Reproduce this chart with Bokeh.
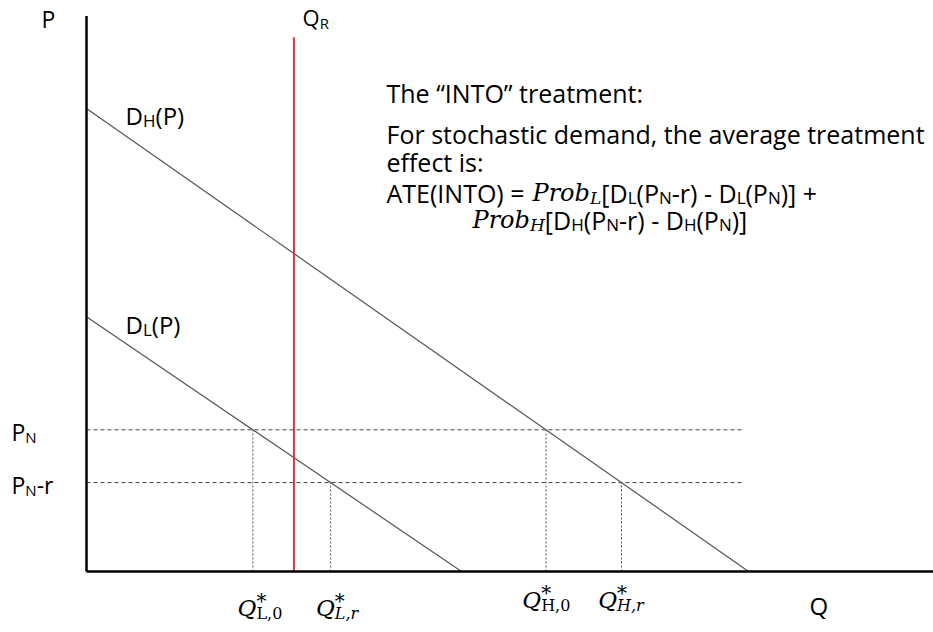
import os
from bokeh.plotting import figure
from bokeh.models import ColumnDataSource, Range1d
from bokeh.embed import file_html
from bokeh.resources import INLINE

# ---------------- data (economic units) ----------------
P_AXIS_TOP = 12.0        # top of the price axis
Q_AXIS_END = 18.3        # right end of the quantity axis
DH_P0, DH_Q0 = 10.0, 14.3   # high demand: price intercept, quantity intercept
DL_P0, DL_Q0 = 5.5, 8.1     # low demand: price intercept, quantity intercept
P_N = 3.06               # normal price
R = 1.14                 # treatment (price reduction r)
Q_R = 4.48               # quantity restriction Q_R
Q_R_TOP = 11.54
GUIDE_END = 14.2         # end of the horizontal dashed price guides

prices = [P_N, P_N - R]
demands = {"L": (DL_P0, DL_Q0), "H": (DH_P0, DH_Q0)}


def demand_q(name, price):
    p0, q0 = demands[name]
    return q0 * (1.0 - price / p0)


# ---------------- layout helpers ----------------
U = 46.3                 # px per unit
X0, Y0 = 86.0, 571.0     # pixel of the origin
W, H = 933, 632
TEXT_DY = -9             # global vertical correction for text baselines


def px2x(xp):
    return (xp - X0) / U


def px2y(yp):
    return (Y0 - yp) / U


# font measurement (for laying out sub/superscript runs)
def _font_index():
    idx = {}
    roots = ["/usr/share/fonts", "/usr/local/share/fonts",
             os.path.expanduser("~/.fonts"), os.path.expanduser("~/.local/share/fonts")]
    for root in roots:
        if not os.path.isdir(root):
            continue
        for dp, _, fns in os.walk(root):
            for f in fns:
                if f.lower().endswith((".ttf", ".otf")):
                    idx.setdefault(f.lower(), os.path.join(dp, f))
    return idx


_IDX = _font_index()
_CANDS = {
    "sans": ["opensans-regular.ttf", "opensans[wdth,wght].ttf", "opensans-variablefont_wdth,wght.ttf"],
    "si": ["dejavuserif-italic.ttf"],
    "s": ["dejavuserif.ttf"],
}
_FALLBACK = {"sans": 0.56, "si": 0.6, "s": 0.6}
_FONTS = {"sans": ("Open Sans", "normal"), "si": ("DejaVu Serif", "italic"), "s": ("DejaVu Serif", "normal")}
_cache = {}


def text_width(t, kind, size):
    try:
        from PIL import ImageFont
        key = (kind, size)
        if key not in _cache:
            path = None
            for c in _CANDS[kind]:
                if c in _IDX:
                    path = _IDX[c]
                    break
            _cache[key] = ImageFont.truetype(path, size) if path else None
        f = _cache[key]
        if f is not None:
            return f.getlength(t)
    except Exception:
        pass
    return len(t) * size * _FALLBACK[kind]


rows = dict(x=[], y=[], text=[], xo=[], yo=[], font=[], size=[], fstyle=[])


def rich(xp, yp, segs):
    off = 0.0
    for seg in segs:
        t, kind, size = seg[0], seg[1], seg[2]
        dy = seg[3] if len(seg) > 3 else 0
        adv = seg[4] if len(seg) > 4 else True
        gap = seg[5] if len(seg) > 5 else 0
        rows["x"].append(px2x(xp))
        rows["y"].append(px2y(yp + TEXT_DY))
        rows["text"].append(t.strip())
        rows["xo"].append(off + (text_width(" ", kind, size) if t.startswith(" ") else 0))
        rows["yo"].append(dy)
        rows["font"].append(_FONTS[kind][0])
        rows["fstyle"].append(_FONTS[kind][1])
        rows["size"].append(f"{size}px")
        if adv:
            off += text_width(t, kind, size) + gap


M, S, SD = 25, 17, 5   # main size, subscript size, subscript drop

# axis labels
rich(41, 27, [("P", "sans", 23)])
rich(809, 614, [("Q", "sans", 24)])
rich(302, 25, [("Q", "sans", 22), ("R", "sans", 15, 6)])
rich(125, 124, [("D", "sans", 24), ("H", "sans", S, SD), ("(P)", "sans", 24)])
rich(125, 333, [("D", "sans", 24), ("L", "sans", S, SD), ("(P)", "sans", 24)])
rich(11, 440, [("P", "sans", 23), ("N", "sans", 15, 5)])
rich(11, 493, [("P", "sans", 23), ("N", "sans", 15, 5), ("-r", "sans", 23)])

# Q* labels under the axis
qlab = [("L", "0", "s", 238 - 253.3, 616), ("L", "r", "si", 316 - 330.7, 616),
        ("H", "0", "s", 523 - 546.7, 608), ("H", "r", "si", 600 - 623.3, 608)]
for (name, k, kind, dx, yb) in qlab:
    price = prices[0] if k == "0" else prices[1]
    qx = X0 + demand_q(name, price) * U
    rich(qx + dx, yb, [("Q", "si", 23), ("*", "s", 20, -7, False), (name + "," + k, kind, 16, 6)])

# explanatory text
rich(386, 101, [("The \u201cINTO\u201d treatment:", "sans", M)])
rich(386, 142, [("For stochastic demand, the average treatment", "sans", M)])
rich(386, 170, [("effect is:", "sans", M)])
rich(386, 201, [("ATE(INTO) =", "sans", M, 0, True, 10), ("Prob", "si", 24), ("L", "si", S, SD),
                ("[D", "sans", M), ("L", "sans", S, SD), ("(P", "sans", M), ("N", "sans", S, SD),
                ("-r) - D", "sans", M), ("L", "sans", S, SD), ("(P", "sans", M), ("N", "sans", S, SD),
                (")] +", "sans", M)])
rich(472, 228, [("Prob", "si", 24), ("H", "si", S, SD),
                ("[D", "sans", M), ("H", "sans", S, SD), ("(P", "sans", M), ("N", "sans", S, SD),
                ("-r) - D", "sans", M), ("H", "sans", S, SD), ("(P", "sans", M), ("N", "sans", S, SD),
                (")]", "sans", M)])

# ---------------- figure ----------------
p = figure(width=W, height=H, toolbar_location=None, output_backend="svg",
           x_range=Range1d(px2x(0), px2x(W)),
           y_range=Range1d(px2y(H), px2y(0)),
           x_axis_type=None, y_axis_type=None, min_border=0)
p.grid.visible = False
p.outline_line_color = None
p.background_fill_color = "white"
p.border_fill_color = "white"

# horizontal dashed price guides
p.segment(x0=[0, 0], y0=prices, x1=[GUIDE_END, GUIDE_END], y1=prices,
          line_color="#444444", line_width=1, line_dash="4 3")

# vertical dotted quantity guides
vx = [demand_q(n, pr) for n in ("L", "H") for pr in prices]
vy = [pr for n in ("L", "H") for pr in prices]
p.segment(x0=vx, y0=[0] * 4, x1=vx, y1=vy, line_color="#555555", line_width=1, line_dash="2 2")

# demand curves
for name in ("H", "L"):
    p0, q0 = demands[name]
    p.line([0, q0], [p0, 0], line_color="#555555", line_width=1.2)

# quantity restriction
p.line([Q_R, Q_R], [0, Q_R_TOP], line_color="#e0353a", line_width=2)

# axes
p.line([0, 0], [0, P_AXIS_TOP], line_color="black", line_width=2.5)
p.line([0, Q_AXIS_END], [0, 0], line_color="black", line_width=2.5)

src = ColumnDataSource(rows)
p.text(x="x", y="y", text="text", x_offset="xo", y_offset="yo", source=src,
       text_font="font", text_font_size="size", text_font_style="fstyle",
       text_color="black", text_baseline="alphabetic", text_align="left")

open("out.html", "w").write(file_html(p, INLINE))
